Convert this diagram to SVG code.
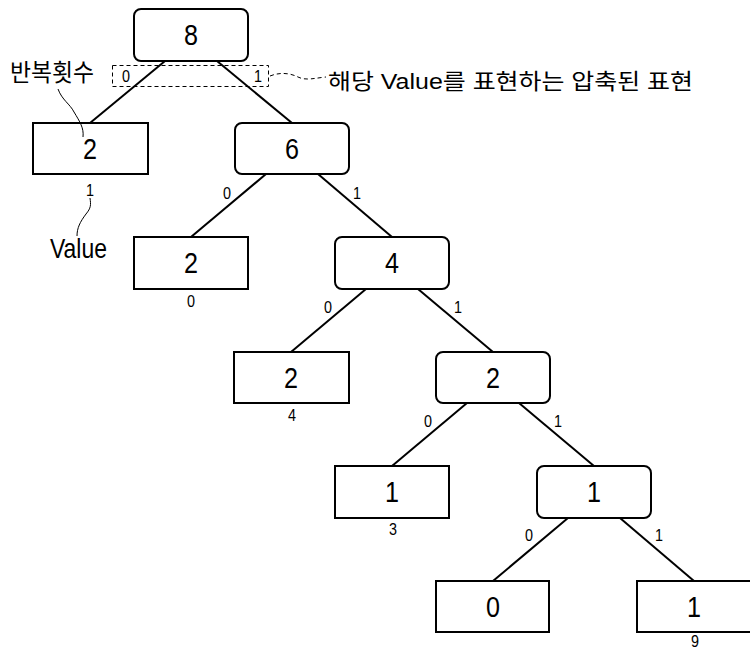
<svg xmlns="http://www.w3.org/2000/svg" width="750" height="652" viewBox="0 0 750 652">
  <style>
    .box { fill: #fff; stroke: #000; stroke-width: 2; }
    .edge { stroke: #000; stroke-width: 2; fill: none; }
    .lead { stroke: #000; stroke-width: 1; fill: none; }
    .dash { stroke: #000; stroke-width: 1; fill: none; stroke-dasharray: 4 3; }
    .num { font-family: "Liberation Sans", Arial, sans-serif; font-size: 29px; text-anchor: middle; fill: #000; }
    .lbl { font-family: "Liberation Sans", Arial, sans-serif; font-size: 17px; text-anchor: middle; fill: #000; }
    .ann { font-family: "Liberation Sans", "Noto Sans CJK KR", sans-serif; fill: #000; }
  </style>
  <rect width="750" height="652" fill="#fff"/>

  <!-- connectors -->
  <g id="edges">
    <line class="edge" x1="165" y1="61" x2="90" y2="123"/>
    <line class="edge" x1="217" y1="61" x2="292" y2="123"/>
    <line class="edge" x1="266" y1="174" x2="191" y2="237"/>
    <line class="edge" x1="318" y1="174" x2="392" y2="237"/>
    <line class="edge" x1="366" y1="289" x2="291" y2="352"/>
    <line class="edge" x1="418" y1="289" x2="493" y2="352"/>
    <line class="edge" x1="467" y1="403" x2="392" y2="466"/>
    <line class="edge" x1="519" y1="403" x2="594" y2="466"/>
    <line class="edge" x1="568" y1="518" x2="493" y2="581"/>
    <line class="edge" x1="620" y1="518" x2="694" y2="581"/>
  </g>

  <!-- branch bit labels -->
  <g id="bits">
    <text class="lbl" x="126" y="82" textLength="8" lengthAdjust="spacingAndGlyphs">0</text>
    <text class="lbl" x="258" y="82" textLength="8" lengthAdjust="spacingAndGlyphs">1</text>
    <text class="lbl" x="227" y="199" textLength="8" lengthAdjust="spacingAndGlyphs">0</text>
    <text class="lbl" x="357" y="199" textLength="8" lengthAdjust="spacingAndGlyphs">1</text>
    <text class="lbl" x="328" y="313" textLength="8" lengthAdjust="spacingAndGlyphs">0</text>
    <text class="lbl" x="458" y="313" textLength="8" lengthAdjust="spacingAndGlyphs">1</text>
    <text class="lbl" x="428" y="427" textLength="8" lengthAdjust="spacingAndGlyphs">0</text>
    <text class="lbl" x="558" y="427" textLength="8" lengthAdjust="spacingAndGlyphs">1</text>
    <text class="lbl" x="529" y="541" textLength="8" lengthAdjust="spacingAndGlyphs">0</text>
    <text class="lbl" x="659" y="541" textLength="8" lengthAdjust="spacingAndGlyphs">1</text>
  </g>

  <!-- nodes -->
  <g id="n-root">
    <rect class="box" x="134" y="9" width="114" height="52" rx="7"/>
    <text class="num" x="191" y="45" textLength="14" lengthAdjust="spacingAndGlyphs">8</text>
  </g>
  <g id="n-leaf1">
    <rect class="box" x="33" y="123" width="115" height="51"/>
    <text class="num" x="90" y="159" textLength="14" lengthAdjust="spacingAndGlyphs">2</text>
    <text class="lbl" x="90" y="196" textLength="8" lengthAdjust="spacingAndGlyphs">1</text>
  </g>
  <g id="n-6">
    <rect class="box" x="235" y="123" width="114" height="51" rx="7"/>
    <text class="num" x="292" y="159" textLength="14" lengthAdjust="spacingAndGlyphs">6</text>
  </g>
  <g id="n-leaf0">
    <rect class="box" x="134" y="237" width="114" height="52"/>
    <text class="num" x="191" y="273" textLength="14" lengthAdjust="spacingAndGlyphs">2</text>
    <text class="lbl" x="191" y="307" textLength="8" lengthAdjust="spacingAndGlyphs">0</text>
  </g>
  <g id="n-4">
    <rect class="box" x="335" y="237" width="114" height="52" rx="7"/>
    <text class="num" x="392" y="273" textLength="14" lengthAdjust="spacingAndGlyphs">4</text>
  </g>
  <g id="n-leaf4">
    <rect class="box" x="234" y="352" width="115" height="51"/>
    <text class="num" x="291" y="388" textLength="14" lengthAdjust="spacingAndGlyphs">2</text>
    <text class="lbl" x="292" y="421" textLength="8" lengthAdjust="spacingAndGlyphs">4</text>
  </g>
  <g id="n-2">
    <rect class="box" x="436" y="352" width="114" height="51" rx="7"/>
    <text class="num" x="493" y="388" textLength="14" lengthAdjust="spacingAndGlyphs">2</text>
  </g>
  <g id="n-leaf3">
    <rect class="box" x="335" y="466" width="114" height="52"/>
    <text class="num" x="392" y="502" textLength="14" lengthAdjust="spacingAndGlyphs">1</text>
    <text class="lbl" x="393" y="535" textLength="8" lengthAdjust="spacingAndGlyphs">3</text>
  </g>
  <g id="n-1">
    <rect class="box" x="537" y="466" width="114" height="52" rx="7"/>
    <text class="num" x="594" y="502" textLength="14" lengthAdjust="spacingAndGlyphs">1</text>
  </g>
  <g id="n-leafz">
    <rect class="box" x="436" y="581" width="113" height="51"/>
    <text class="num" x="493" y="617" textLength="14" lengthAdjust="spacingAndGlyphs">0</text>
  </g>
  <g id="n-leaf9">
    <rect class="box" x="637" y="581" width="114" height="51"/>
    <text class="num" x="694" y="617" textLength="14" lengthAdjust="spacingAndGlyphs">1</text>
    <text class="lbl" x="695" y="647" textLength="8" lengthAdjust="spacingAndGlyphs">9</text>
  </g>

  <!-- annotations -->
  <g id="notes">
    <rect class="dash" x="112.5" y="65.5" width="156" height="21"/>
    <path class="dash" d="M270,76 C280,72 290,73 298,77 C306,81 315,78 326,77"/>
    <text class="ann" x="10" y="81" font-size="24" textLength="84" lengthAdjust="spacingAndGlyphs">반복횟수</text>
    <path class="lead" d="M58,89 C62,100 70,104 74,112 C80,122 84,128 83,137"/>
    <text class="ann" x="328" y="89" font-size="22" textLength="365" lengthAdjust="spacingAndGlyphs">해당 Value를 표현하는 압축된 표현</text>
    <path class="lead" d="M90,198 C91,205 91,208 86,214 C80,222 77,228 77,236"/>
    <text class="ann" x="50" y="258" font-size="28" textLength="57" lengthAdjust="spacingAndGlyphs">Value</text>
  </g>
</svg>
